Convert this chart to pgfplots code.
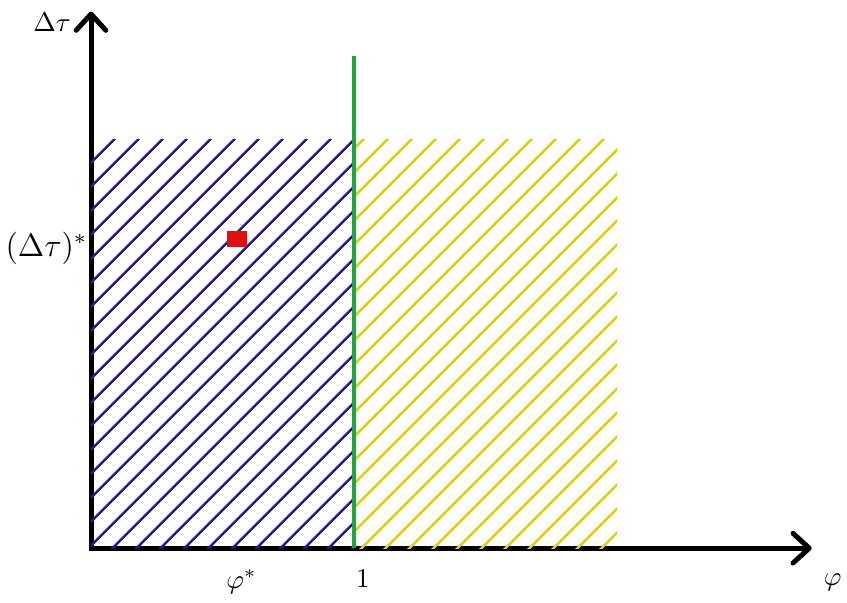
\documentclass[border=0pt]{standalone}
\usepackage{pgfplots}
\pgfplotsset{compat=1.18}
\usetikzlibrary{arrows.meta,patterns.meta}
\definecolor{hblue}{RGB}{28,28,168}
\definecolor{hyellow}{RGB}{228,208,0}
\definecolor{hgreen}{RGB}{30,168,56}
\definecolor{hred}{RGB}{224,16,16}
\begin{document}
\begin{tikzpicture}
\begin{axis}[
  x=97.4pt, y=97.4pt,
  xmin=0, xmax=2.74, ymin=0, ymax=2.04,
  axis lines=left,
  axis line style={line width=1.85pt, line cap=rect},
  x axis line style={-{Straight Barb[round,length=6pt,width=11pt]}},
  y axis line style={-{Straight Barb[round,length=6pt,width=11pt]}},
  xtick={0.572,1.034}, xticklabels={$\varphi^*$,$1$},
  ytick={1.175}, yticklabels={$(\Delta\tau)^*$},
  major tick length=0pt,
  xticklabel style={yshift=-4.5pt},
  yticklabel style={xshift=2pt, yshift=-3.3pt, font=\fontsize{11.5}{13}\selectfont},
  clip=false,
]
\addplot[draw=none, pattern={Lines[angle=45,distance=6.5pt,line width=0.9pt]}, pattern color=hblue]
  coordinates {(0,1.555) (1,1.555)} \closedcycle;
\addplot[draw=none, pattern={Lines[angle=45,distance=6.5pt,line width=0.9pt]}, pattern color=hyellow]
  coordinates {(1,1.555) (2,1.555)} \closedcycle;
\addplot[hgreen, line width=1.5pt] coordinates {(1,0) (1,1.87)};
\addplot[only marks, mark=square*, mark size=2.7pt, mark options={xscale=1.3, hred}] coordinates {(0.555,1.175)};
\node at (axis cs:-0.148,2.0) {$\Delta\tau$};
\node at (axis cs:2.82,-0.13) {$\varphi$};
\coordinate (bl) at (axis cs:-0.346,-0.205);
\coordinate (tr) at (axis cs:2.874,2.084);
\end{axis}
\pgfresetboundingbox
\useasboundingbox (bl) rectangle (tr);
\end{tikzpicture}
\end{document}
